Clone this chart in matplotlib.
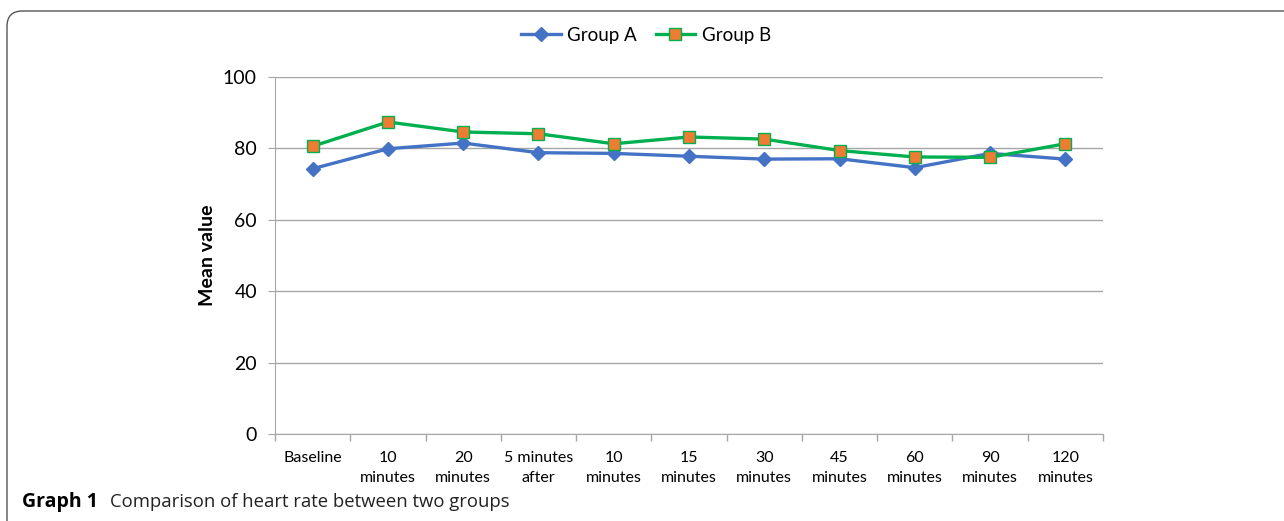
import matplotlib
matplotlib.use("Agg")
import matplotlib.pyplot as plt
from matplotlib.patches import FancyBboxPatch
from matplotlib.ticker import FixedLocator

categories = ["Baseline", "10\nminutes", "20\nminutes", "5 minutes\nafter", "10\nminutes",
              "15\nminutes", "30\nminutes", "45\nminutes", "60\nminutes", "90\nminutes", "120\nminutes"]
group_a = [74.3, 79.9, 81.5, 78.8, 78.6, 77.8, 77.0, 77.1, 74.6, 78.6, 77.0]
group_b = [80.6, 87.4, 84.6, 84.1, 81.3, 83.2, 82.6, 79.4, 77.6, 77.5, 81.3]
y_ticks = [0, 20, 40, 60, 80, 100]

plt.rcParams['font.family'] = ['Lato', 'DejaVu Sans']

fig = plt.figure(figsize=(12.84, 5.21), dpi=100)
ax = fig.add_axes([275/1284, 1-434/521, (1103-275)/1284, (434-77)/521])

x = list(range(len(categories)))
ax.plot(x, group_a, color="#4472C4", lw=2.4, marker="D", ms=7, mfc="#4472C4", mec="#4472C4",
        label="Group A", zorder=3)
ax.plot(x, group_b, color="#00B050", lw=2.4, marker="s", ms=9, mfc="#ED7D31", mec="#00B050",
        mew=1.0, label="Group B", zorder=4)

ax.set_xlim(-0.5, len(categories) - 0.5)
ax.set_ylim(0, 100)
ax.set_yticks(y_ticks)
ax.yaxis.grid(True, color="#a6a6a6", lw=1)
ax.set_axisbelow(True)
ax.set_xticks(x)
ax.set_xticklabels(categories, fontsize=11.5, linespacing=1.6)
ax.xaxis.set_minor_locator(FixedLocator([i - 0.5 for i in range(len(categories) + 1)]))
ax.tick_params(axis='x', which='major', length=0, pad=12)
ax.tick_params(axis='x', which='minor', length=5, color="#a6a6a6", width=1)
ax.tick_params(axis='y', length=5, color="#a6a6a6", labelsize=14, pad=8)
for s in ["top", "right"]:
    ax.spines[s].set_visible(False)
for s in ["left", "bottom"]:
    ax.spines[s].set_color("#a6a6a6")
ax.set_ylabel("Mean value", fontsize=14, fontweight="bold", labelpad=5)

leg = fig.legend(loc="center", bbox_to_anchor=(646/1284, 1-35/521), ncol=2, frameon=False,
                 fontsize=13.5, handlelength=2.1, columnspacing=1.0, handletextpad=0.35)

frame = FancyBboxPatch((7/1284, -0.1), 1.2, (1-11/521) + 0.1, boxstyle="round,pad=0,rounding_size=0.012",
                       transform=fig.transFigure, fill=False, ec="#555555", lw=1.0,
                       mutation_aspect=1284/521)
fig.patches.append(frame)

fig.text(22/1284, 1-502/521, "Graph 1", fontsize=14, fontweight="bold",
         family=["Open Sans", "DejaVu Sans"], va="center", ha="left")
fig.text(110/1284, 1-502/521, "Comparison of heart rate between two groups", fontsize=13.3,
         family=["Open Sans", "DejaVu Sans"], va="center", ha="left", color="#222222")

fig.savefig("out.png", dpi=100)
